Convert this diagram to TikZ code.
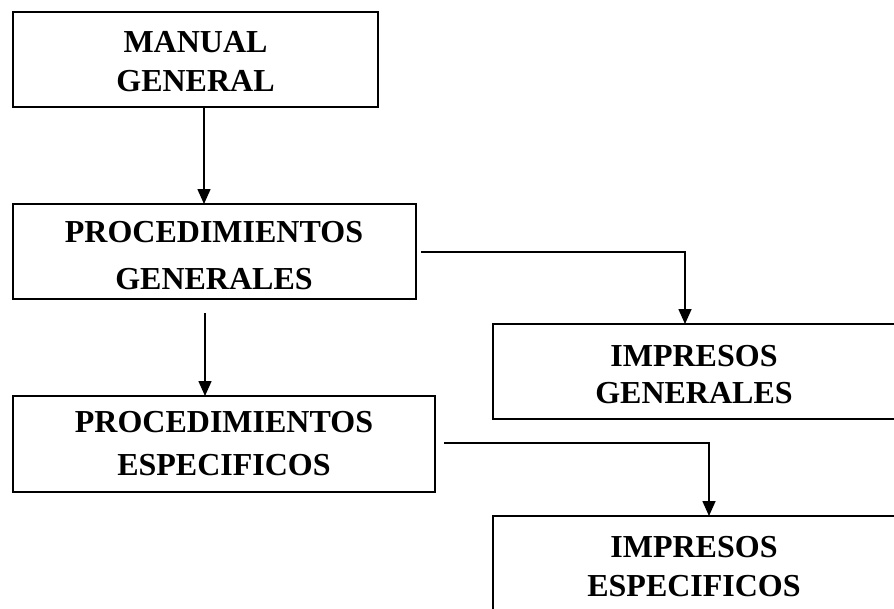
\documentclass[tikz,border=0pt]{standalone}
\usepackage{fontspec}
\setmainfont{Liberation Serif}
\usetikzlibrary{arrows.meta}
\begin{document}
\begin{tikzpicture}[x=1pt,y=-1pt,
  box/.style={draw=black,line width=1.6pt,inner sep=0pt,outer sep=0pt},
  lbl/.style={inner sep=0pt,outer sep=0pt,align=center,anchor=north,
    font=\bfseries\fontsize{32}{38.4}\selectfont},
  arr/.style={draw=black,line width=1.6pt,-{Triangle[length=15pt,width=13pt]}}]
\useasboundingbox (0,0) rectangle (894,608);
\clip (0,0) rectangle (894,608);
\fill[white] (0,0) rectangle (894,608);
\node[box,minimum width=365pt,minimum height=95pt] (b1) at (195.5,59.5) {};
\node[box,minimum width=403pt,minimum height=95pt] (b2) at (214.5,251.5) {};
\node[box,minimum width=402pt,minimum height=95pt] (b3) at (694,371.5) {};
\node[box,minimum width=422pt,minimum height=96pt] (b4) at (224,444) {};
\node[box,minimum width=402pt,minimum height=95pt] (b5) at (694,563.5) {};
\node[lbl] (t1) at (195.5,31.7) {MANUAL\\GENERAL};
\node[lbl] (t2) at (214,221.7) {PROCEDIMIENTOS\\[8pt]GENERALES};
\node[lbl] (t3) at (694,345) {IMPRESOS\\[-1.5pt]GENERALES};
\node[lbl] (t4) at (224,411) {PROCEDIMIENTOS\\[4.5pt]ESPECIFICOS};
\node[lbl] (t5) at (694,536.7) {IMPRESOS\\ESPECIFICOS};
\coordinate (x1) at (204,0);
\coordinate (s2) at (205,313);
\coordinate (s3) at (421,252);
\coordinate (k3) at (685,0);
\coordinate (s4) at (444,443);
\coordinate (k4) at (709,0);
\draw[arr] (b1.south -| x1) -- (b2.north -| x1);
\draw[arr] (s2) -- (b4.north -| s2);
\draw[arr] (s3) -| (b3.north -| k3);
\draw[arr] (s4) -| (b5.north -| k4);
\end{tikzpicture}
\end{document}
